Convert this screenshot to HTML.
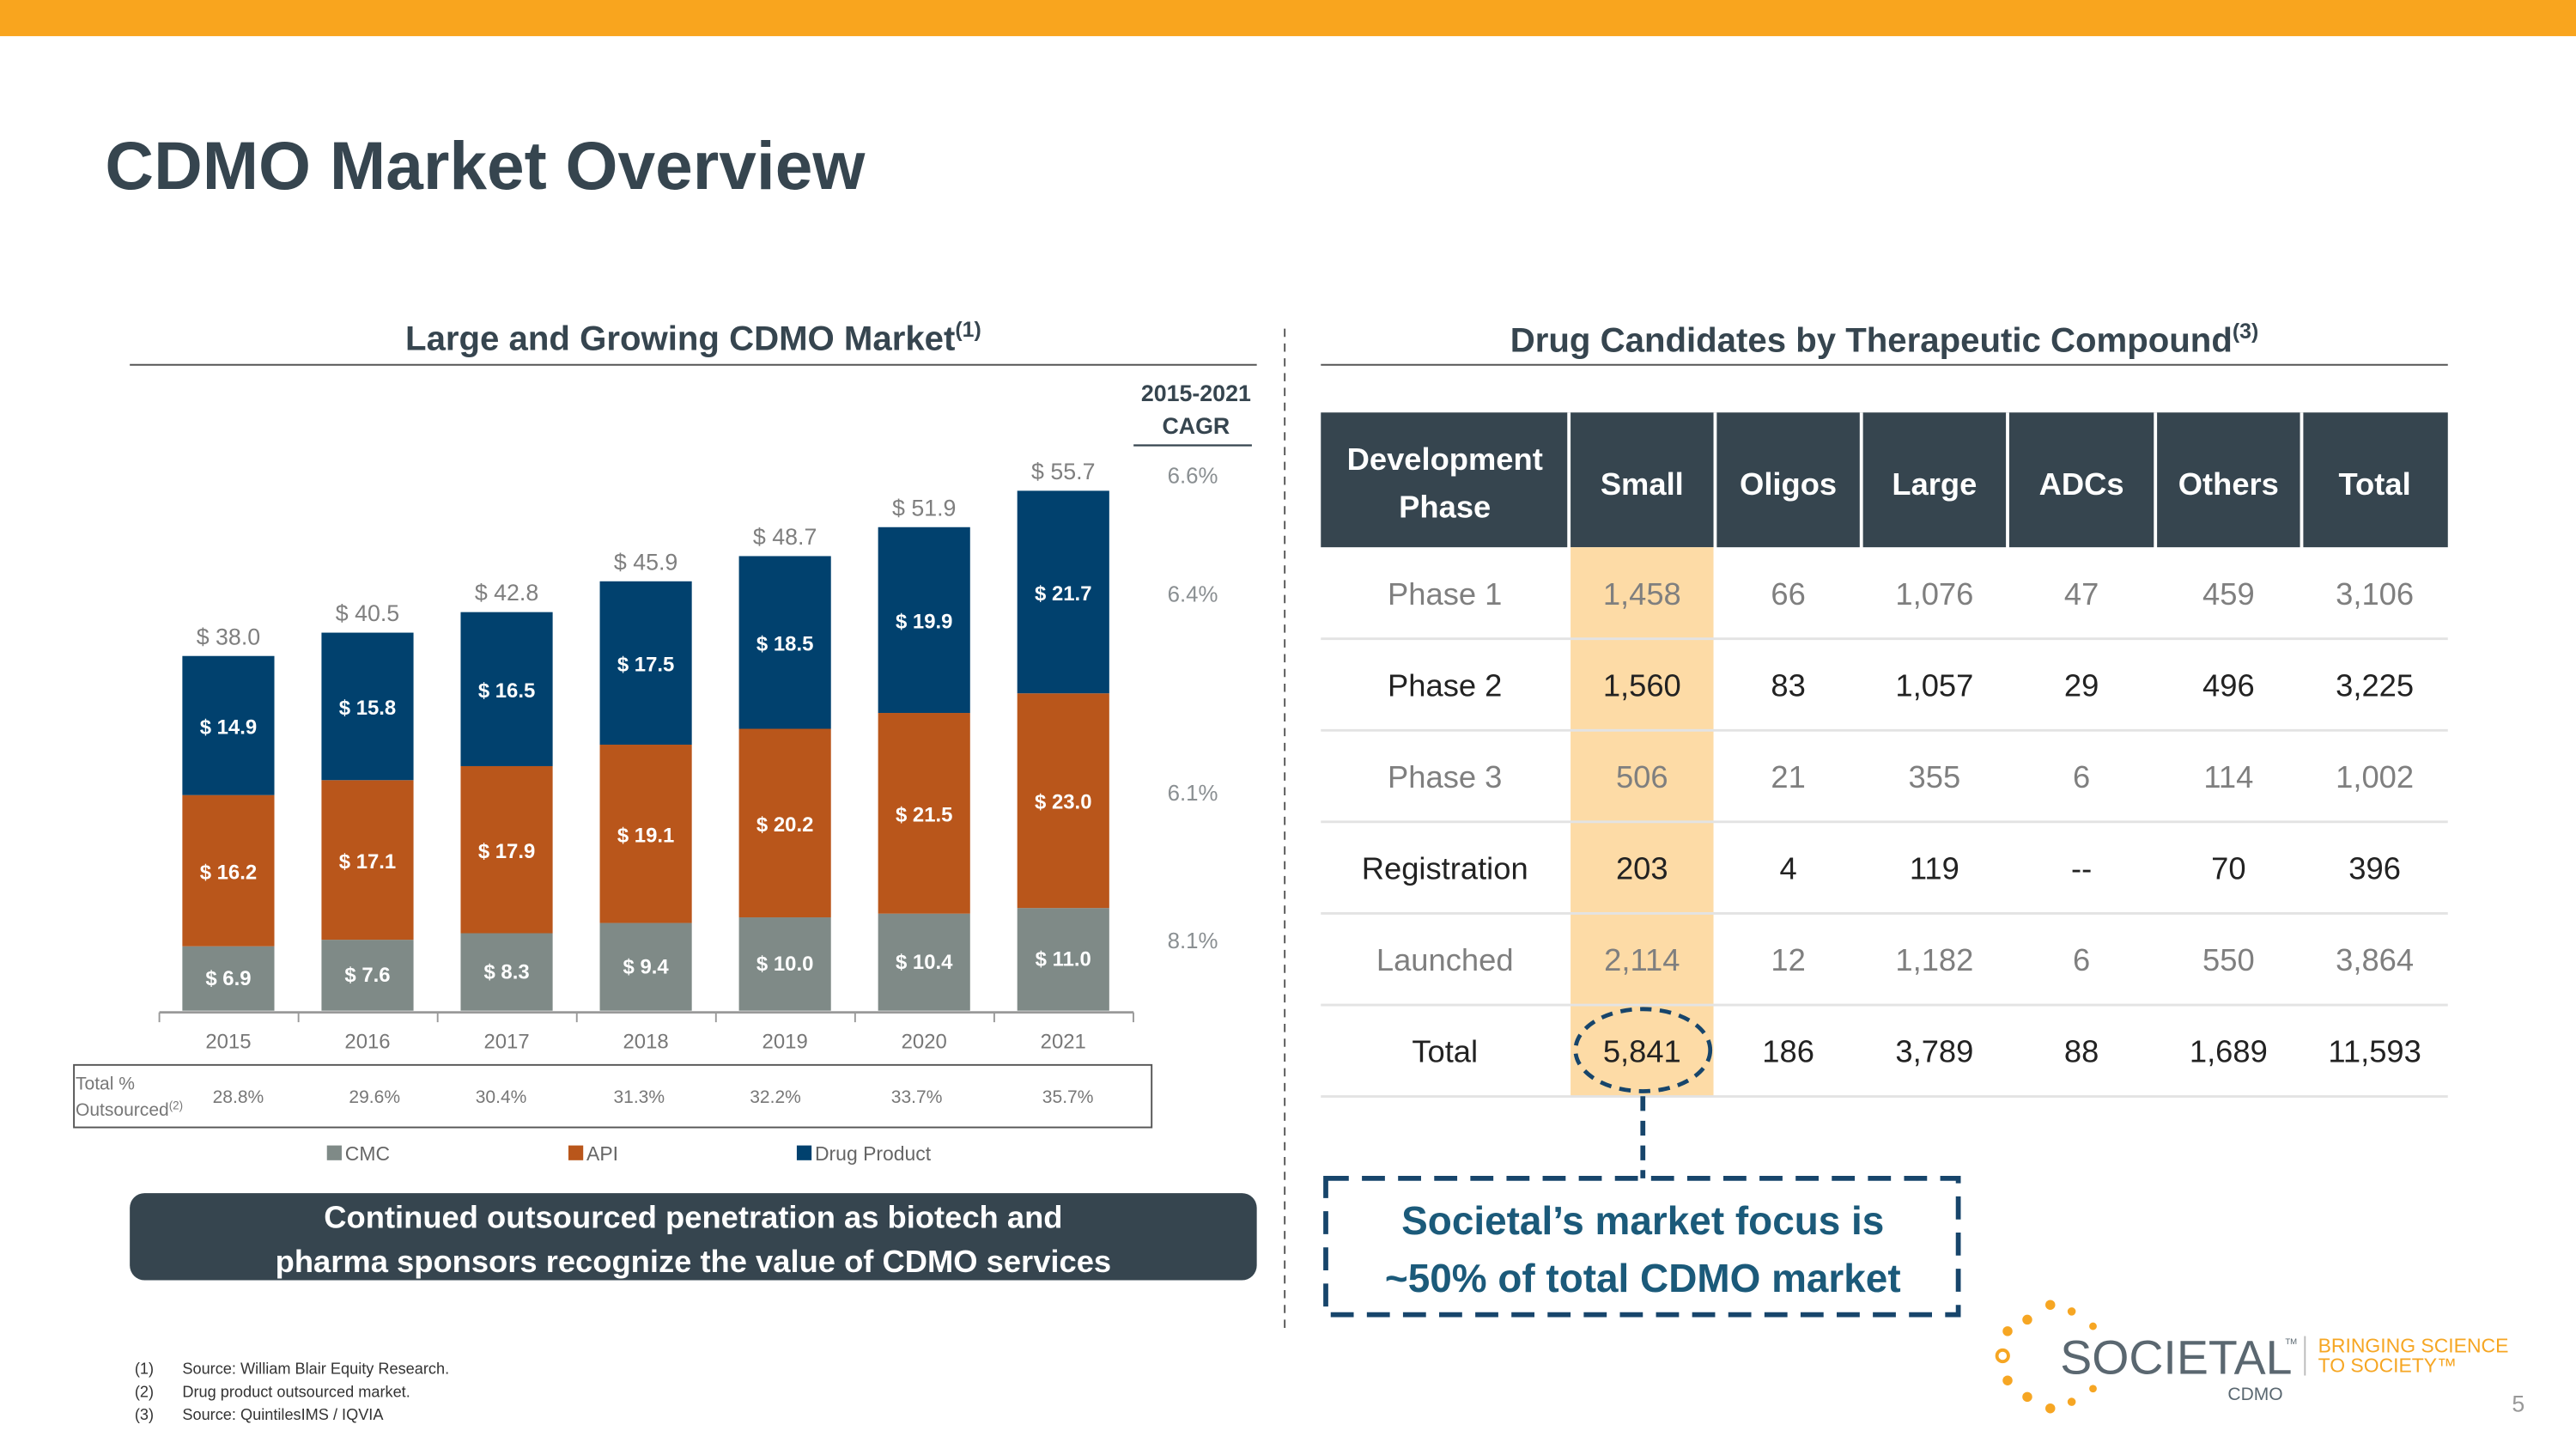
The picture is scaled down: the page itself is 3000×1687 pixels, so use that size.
<!DOCTYPE html>
<html><head><meta charset="utf-8"><style>
html,body{margin:0;padding:0;background:#fff;}
svg{display:block;font-family:"Liberation Sans",sans-serif;}
</style></head><body>
<svg id="s" width="3000" height="1687" viewBox="0 0 1568 881.7" preserveAspectRatio="none" xmlns="http://www.w3.org/2000/svg">
<rect x="0" y="0" width="1568" height="22" fill="#F9A51E"/>
<text x="64" y="115" font-size="41" font-weight="bold" fill="#36454F">CDMO Market Overview</text>
<text x="422" y="213" font-size="21" font-weight="bold" fill="#36454F" text-anchor="middle">Large and Growing CDMO Market<tspan font-size="13" dy="-8">(1)</tspan></text>
<line x1="79" y1="222" x2="765" y2="222" stroke="#555" stroke-width="1"/>
<line x1="782" y1="200" x2="782" y2="812" stroke="#555" stroke-width="1" stroke-dasharray="5,4"/>
<text x="1147" y="214" font-size="21" font-weight="bold" fill="#36454F" text-anchor="middle">Drug Candidates by Therapeutic Compound<tspan font-size="13" dy="-8">(3)</tspan></text>
<line x1="804" y1="222" x2="1490" y2="222" stroke="#555" stroke-width="1"/>
<g font-size="14" font-weight="bold" fill="#36454F" text-anchor="middle">
<text x="728" y="244">2015-2021</text><text x="728" y="264">CAGR</text></g>
<line x1="690" y1="271" x2="762" y2="271" stroke="#36454F" stroke-width="1.2"/>
<g id="chart"></g>
<g>
<rect x="45" y="648" width="656" height="38" fill="none" stroke="#555" stroke-width="1"/>
<text x="46" y="663" font-size="11" fill="#777">Total %</text>
<text x="46" y="679" font-size="11" fill="#777">Outsourced<tspan font-size="7" dy="-4">(2)</tspan></text>
<g id="outs"></g></g>
<g font-size="12" fill="#666">
<rect x="199" y="697" width="9" height="9" fill="#7F8A87"/><text x="210" y="706">CMC</text>
<rect x="346" y="697" width="9" height="9" fill="#B9561B"/><text x="357" y="706">API</text>
<rect x="485" y="697" width="9" height="9" fill="#01416E"/><text x="496" y="706">Drug Product</text></g>
<g>
<rect x="79" y="726" width="686" height="53" rx="9" fill="#36454F"/>
<text x="422" y="747" font-size="19" font-weight="bold" fill="#fff" text-anchor="middle">Continued outsourced penetration as biotech and</text>
<text x="422" y="774" font-size="19" font-weight="bold" fill="#fff" text-anchor="middle">pharma sponsors recognize the value of CDMO services</text></g>
<g font-size="9.5" fill="#333">
<text x="82" y="836">(1)</text><text x="111" y="836">Source: William Blair Equity Research.</text>
<text x="82" y="850">(2)</text><text x="111" y="850">Drug product outsourced market.</text>
<text x="82" y="864">(3)</text><text x="111" y="864">Source: QuintilesIMS / IQVIA</text></g>
<g id="table"></g>
<ellipse cx="1000" cy="639" rx="41" ry="25" fill="none" stroke="#17456B" stroke-width="2.5" stroke-dasharray="7,5"/>
<line x1="1000" y1="667" x2="1000" y2="717" stroke="#17456B" stroke-width="3" stroke-dasharray="9,6"/>
<g>
<rect x="807" y="717" width="385" height="83" fill="none" stroke="#17456B" stroke-width="3" stroke-dasharray="14,8"/>
<text x="1000" y="751" font-size="24" font-weight="bold" fill="#1B5A7A" text-anchor="middle">Societal’s market focus is</text>
<text x="1000" y="786" font-size="24" font-weight="bold" fill="#1B5A7A" text-anchor="middle">~50% of total CDMO market</text></g>
<g>
<g fill="#F6A623">
<circle cx="1234" cy="803" r="3"/><circle cx="1248" cy="794" r="3"/><circle cx="1261" cy="798" r="2.5"/><circle cx="1274" cy="807" r="2.3"/>
<circle cx="1222" cy="810" r="3"/><circle cx="1222" cy="840" r="3"/><circle cx="1234" cy="850" r="3"/><circle cx="1248" cy="857" r="3"/><circle cx="1261" cy="853" r="2.5"/><circle cx="1274" cy="845" r="2.3"/></g>
<circle cx="1219" cy="825" r="3.5" fill="none" stroke="#F6A623" stroke-width="2"/>
<text x="1254" y="836" font-size="29" fill="#5A6770">SOCIETAL</text>
<text x="1391" y="818" font-size="5" fill="#5A6770">TM</text>
<line x1="1403" y1="813" x2="1403" y2="837" stroke="#bbb"/>
<text x="1411" y="823" font-size="12" fill="#F6A623">BRINGING SCIENCE</text>
<text x="1411" y="835" font-size="12" fill="#F6A623">TO SOCIETY™</text>
<text x="1356" y="852" font-size="11" fill="#5A6770">CDMO</text></g>
<text x="1529" y="859" font-size="14" fill="#999">5</text>
</svg>
<script>
const years=["2015","2016","2017","2018","2019","2020","2021"];
const cmc=[6.9,7.6,8.3,9.4,10.0,10.4,11.0];
const api=[16.2,17.1,17.9,19.1,20.2,21.5,23.0];
const drug=[14.9,15.8,16.5,17.5,18.5,19.9,21.7];
const totals=[38.0,40.5,42.8,45.9,48.7,51.9,55.7];
const cagrLabels=["6.6%","6.4%","6.1%","8.1%"];
const outsourced=["28.8%","29.6%","30.4%","31.3%","32.2%","33.7%","35.7%"];
const NS="http://www.w3.org/2000/svg";
function mk(t,a,p,txt){const e=document.createElementNS(NS,t);for(const k in a)e.setAttribute(k,a[k]);if(txt!==undefined)e.textContent=txt;p.appendChild(e);return e;}
const g=document.getElementById('chart');
const base=615,k=5.68,x0=139,step=84.7,bw=56;
const X=i=>x0+i*step, Y=v=>base-v*k;
mk('line',{x1:97,y1:base+1,x2:690,y2:base+1,stroke:'#999','stroke-width':1.5},g);
for(let i=0;i<=7;i++){mk('line',{x1:97+i*step,y1:base+1,x2:97+i*step,y2:base+7,stroke:'#999','stroke-width':1},g);}
const segs=[[cmc,'#7F8A87','cmc'],[api,'#B9561B','api'],[drug,'#01416E','drug-product']];
years.forEach((yr,i)=>{
  let acc=0;
  segs.forEach(([arr,col,nm])=>{
    const v=arr[i];
    const r=mk('rect',{x:X(i)-bw/2,y:Y(acc+v),width:bw,height:v*k,fill:col},g);
    
    
    const t=mk('text',{x:X(i),y:Y(acc+v/2)+(nm==='cmc'?4:5),'font-size':12.5,'font-weight':'bold',fill:'#fff','text-anchor':'middle'},g,'$ '+v.toFixed(1));
    
    
    acc+=v;
  });
  const tt=mk('text',{x:X(i),y:Y(acc)-7,'font-size':14,fill:'#7F7F7F','text-anchor':'middle'},g,'$ '+totals[i].toFixed(1));
  
  
  const yl=mk('text',{x:X(i),y:638,'font-size':12.5,fill:'#777','text-anchor':'middle'},g,yr);
  
  
});
const cagrY=[294,366,487,577];
cagrLabels.forEach((c,i)=>{const t=mk('text',{x:726,y:cagrY[i],'font-size':13.5,fill:'#8A8F92','text-anchor':'middle'},g,c);
  
  });
const og=document.getElementById('outs');
const ox=[145,228,305,389,472,558,650];
outsourced.forEach((o,i)=>{const t=mk('text',{x:ox[i],y:671,'font-size':11,fill:'#777','text-anchor':'middle'},og,o);
  
  });

const headers=["Development Phase","Small","Oligos","Large","ADCs","Others","Total"];
const rowNames=["Phase 1","Phase 2","Phase 3","Registration","Launched","Total"];
const small=["1,458","1,560","506","203","2,114","5,841"];
const oligos=["66","83","21","4","12","186"];
const large=["1,076","1,057","355","119","1,182","3,789"];
const adcs=["47","29","6","--","6","88"];
const others=["459","496","114","70","550","1,689"];
const totalCol=["3,106","3,225","1,002","396","3,864","11,593"];
const tg=document.getElementById('table');
const colX=[804,955,1044,1133,1222,1312,1401,1490];
mk('rect',{x:804,y:251,width:686,height:82,fill:'#36454F'},tg);
mk('rect',{x:955,y:333,width:89,height:334,fill:'#FDDBA6'},tg);
headers.forEach((h,i)=>{
  const cx=(colX[i]+colX[i+1])/2;
  if(i===0){mk('text',{x:cx,y:286,'font-size':19,'font-weight':'bold',fill:'#fff','text-anchor':'middle'},tg,'Development');
    mk('text',{x:cx,y:315,'font-size':19,'font-weight':'bold',fill:'#fff','text-anchor':'middle'},tg,'Phase');}
  else{const t=mk('text',{x:cx,y:301,'font-size':19,'font-weight':'bold',fill:'#fff','text-anchor':'middle'},tg,h);
    
    }
  if(i>0)mk('line',{x1:colX[i],y1:251,x2:colX[i],y2:667,stroke:'#fff','stroke-width':2},tg);
});
const cols=[rowNames,small,oligos,large,adcs,others,totalCol];
const rh=55.7;
rowNames.forEach((r,ri)=>{
  const y=333+ri*rh;
  mk('line',{x1:804,y1:y+rh,x2:1490,y2:y+rh,stroke:'#E3E3E3','stroke-width':1.5},tg);
  const col=(ri%2===0&&ri<5)?'#7F7F7F':'#222';
  cols.forEach((c,ci)=>{
    const t=mk('text',{x:(colX[ci]+colX[ci+1])/2,y:y+rh/2+7,'font-size':19,fill:col,'text-anchor':'middle'},tg,c[ri]);
    
    
  });
});
</script>
</body></html>
